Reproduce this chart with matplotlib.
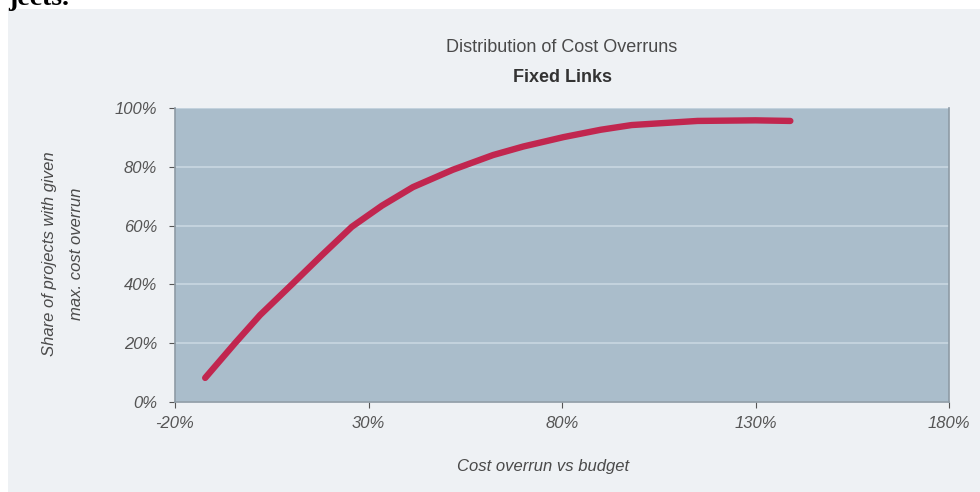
import matplotlib
matplotlib.use("Agg")
import matplotlib.pyplot as plt
from matplotlib.patches import Rectangle
from matplotlib.ticker import FuncFormatter

# -- data ---------------------------------------------------------------
overrun_pct = [-12.2, -4.5, 2, 10.2, 18, 25.7, 33.5, 41.5, 51.8, 62.2,
               70, 80.4, 90, 98, 115, 130, 139]
share_pct = [8.2, 20, 29.6, 40, 50, 59.6, 66.8, 73.1, 79, 84,
             86.9, 90.1, 92.6, 94.2, 95.6, 95.8, 95.6]
x_ticks = [-20, 30, 80, 130, 180]
y_ticks = [0, 20, 40, 60, 80, 100]

# -- palette --------------------------------------------------------------
_PANEL = "#eef1f4"
_PLOT_BG = "#aabdcb"
_GRID = "#c9d7e1"
_LINE = "#c1264f"
_SPINE = "#8e9ba5"
_TICK = "#555555"

plt.rcParams["font.family"] = ["Liberation Sans", "DejaVu Sans"]

fig = plt.figure(figsize=(9.8, 4.92), dpi=100, facecolor="white")
W, H = 980, 492

# light panel behind the chart, white strip above it
fig.patches.append(Rectangle((8 / W, 0), 1 - 8 / W, 1 - 9 / H,
                             transform=fig.transFigure, facecolor=_PANEL,
                             edgecolor="none", zorder=-1))
# cropped caption text from the page above
fig.text(8 / W, 1 - 5 / H, "jects.", family="Liberation Serif",
         fontweight="bold", fontsize=20, color="black", va="baseline")

ax = fig.add_axes([175 / W, 1 - 402 / H, (949 - 175) / W, (402 - 108) / H])
ax.set_zorder(2)
ax.set_facecolor(_PLOT_BG)

ax.plot(overrun_pct, share_pct, color=_LINE, linewidth=4.6,
        solid_capstyle="round", solid_joinstyle="round", zorder=3)

ax.set_xlim(-20, 180)
ax.set_ylim(0, 100)
ax.set_xticks(x_ticks)
ax.set_yticks(y_ticks)
pct = FuncFormatter(lambda v, _: f"{v:.0f}%")
ax.xaxis.set_major_formatter(pct)
ax.yaxis.set_major_formatter(pct)
for lbl in ax.get_xticklabels() + ax.get_yticklabels():
    lbl.set_fontstyle("italic")
ax.tick_params(axis="both", colors=_TICK, labelsize=12, length=4,
               width=0.8)
ax.tick_params(axis="y", pad=9)
ax.tick_params(axis="x", pad=6)
for t in ax.xaxis.get_ticklines() + ax.yaxis.get_ticklines():
    t.set_color(_SPINE)

ax.yaxis.grid(color=_GRID, linewidth=1.2)
ax.set_axisbelow(True)
for side in ("left", "bottom", "right"):
    ax.spines[side].set_color(_SPINE)
    ax.spines[side].set_linewidth(1.2)
ax.spines["top"].set_visible(False)

fig.text(562 / W, 1 - 48 / H, "Distribution of Cost Overruns",
         ha="center", va="center", fontsize=13, color="#4a4a4a")
fig.text(562 / W, 1 - 77 / H, "Fixed Links", ha="center", va="center",
         fontsize=13, fontweight="bold", color="#333333")

fig.text(543 / W, 1 - 466 / H, "Cost overrun vs budget", ha="center",
         va="center", fontsize=12, fontstyle="italic", color="#4a4a4a")
fig.text(63 / W, 1 - 254 / H, "Share of projects with given\nmax. cost overrun",
         ha="center", va="center", rotation=90, fontsize=12,
         fontstyle="italic", color="#4a4a4a", linespacing=2.0)

fig.savefig("out.png", dpi=100, facecolor=fig.get_facecolor())
